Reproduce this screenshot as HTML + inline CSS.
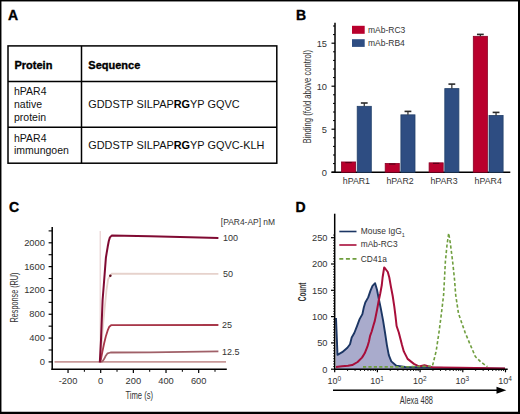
<!DOCTYPE html>
<html><head><meta charset="utf-8"><style>
html,body{margin:0;padding:0;background:#fff;}
body{width:520px;height:414px;overflow:hidden;}
svg{display:block;}
</style></head><body>
<svg width="520" height="414" viewBox="0 0 520 414" font-family='"Liberation Sans", sans-serif'>
<rect x="0" y="0" width="520" height="414" fill="#fff"/>
<text x="8.0" y="20.0" font-size="14" text-anchor="start" font-weight="bold" fill="#000" stroke="#000" stroke-width="0.35">A</text>
<rect x="8" y="45.9" width="268.8" height="117.29999999999998" fill="none" stroke="#000" stroke-width="1.5"/>
<line x1="81.50" y1="45.90" x2="81.50" y2="163.20" stroke="#000" stroke-width="1.5" />
<line x1="8.00" y1="81.50" x2="276.80" y2="81.50" stroke="#000" stroke-width="1.5" />
<line x1="8.00" y1="127.30" x2="276.80" y2="127.30" stroke="#000" stroke-width="1.5" />
<text x="14.5" y="68.5" font-size="11" text-anchor="start" font-weight="bold" fill="#000" stroke="#000" stroke-width="0.35">Protein</text>
<text x="88.3" y="68.5" font-size="11" text-anchor="start" font-weight="bold" fill="#000" stroke="#000" stroke-width="0.35">Sequence</text>
<text x="14" y="95.4" font-size="10.5" text-anchor="start" font-weight="normal" fill="#111" >hPAR4</text>
<text x="14" y="108.3" font-size="10.5" text-anchor="start" font-weight="normal" fill="#111" >native</text>
<text x="14" y="121" font-size="10.5" text-anchor="start" font-weight="normal" fill="#111" >protein</text>
<text x="14" y="141.5" font-size="10.5" text-anchor="start" font-weight="normal" fill="#111" >hPAR4</text>
<text x="14" y="154.3" font-size="10.5" text-anchor="start" font-weight="normal" fill="#111" >immungoen</text>
<text x="88.2" y="107.8" font-size="10.9" text-anchor="start" font-weight="normal" fill="#111" >GDDSTP SILPAP<tspan font-weight="bold" fill="#000">RG</tspan>YP GQVC</text>
<text x="88.2" y="149.3" font-size="10.9" text-anchor="start" font-weight="normal" fill="#111" >GDDSTP SILPAP<tspan font-weight="bold" fill="#000">RG</tspan>YP GQVC-KLH</text>
<text x="295.9" y="20.0" font-size="14" text-anchor="start" font-weight="bold" fill="#000" stroke="#000" stroke-width="0.35">B</text>
<line x1="335.00" y1="22.70" x2="335.00" y2="172.95" stroke="#000" stroke-width="1.5" />
<line x1="331.50" y1="172.20" x2="335.00" y2="172.20" stroke="#000" stroke-width="1.2" />
<text x="327" y="175.5" font-size="9.3" text-anchor="end" font-weight="normal" fill="#333" >0</text>
<line x1="333.00" y1="163.60" x2="335.00" y2="163.60" stroke="#000" stroke-width="1" />
<line x1="333.00" y1="155.00" x2="335.00" y2="155.00" stroke="#000" stroke-width="1" />
<line x1="333.00" y1="146.40" x2="335.00" y2="146.40" stroke="#000" stroke-width="1" />
<line x1="333.00" y1="137.80" x2="335.00" y2="137.80" stroke="#000" stroke-width="1" />
<line x1="331.50" y1="129.20" x2="335.00" y2="129.20" stroke="#000" stroke-width="1.2" />
<text x="327" y="132.5" font-size="9.3" text-anchor="end" font-weight="normal" fill="#333" >5</text>
<line x1="333.00" y1="120.60" x2="335.00" y2="120.60" stroke="#000" stroke-width="1" />
<line x1="333.00" y1="112.00" x2="335.00" y2="112.00" stroke="#000" stroke-width="1" />
<line x1="333.00" y1="103.40" x2="335.00" y2="103.40" stroke="#000" stroke-width="1" />
<line x1="333.00" y1="94.80" x2="335.00" y2="94.80" stroke="#000" stroke-width="1" />
<line x1="331.50" y1="86.20" x2="335.00" y2="86.20" stroke="#000" stroke-width="1.2" />
<text x="327" y="89.49999999999999" font-size="9.3" text-anchor="end" font-weight="normal" fill="#333" >10</text>
<line x1="333.00" y1="77.60" x2="335.00" y2="77.60" stroke="#000" stroke-width="1" />
<line x1="333.00" y1="69.00" x2="335.00" y2="69.00" stroke="#000" stroke-width="1" />
<line x1="333.00" y1="60.40" x2="335.00" y2="60.40" stroke="#000" stroke-width="1" />
<line x1="333.00" y1="51.80" x2="335.00" y2="51.80" stroke="#000" stroke-width="1" />
<line x1="331.50" y1="43.20" x2="335.00" y2="43.20" stroke="#000" stroke-width="1.2" />
<text x="327" y="46.499999999999986" font-size="9.3" text-anchor="end" font-weight="normal" fill="#333" >15</text>
<line x1="333.00" y1="34.60" x2="335.00" y2="34.60" stroke="#000" stroke-width="1" />
<line x1="333.00" y1="26.00" x2="335.00" y2="26.00" stroke="#000" stroke-width="1" />
<line x1="331.50" y1="172.20" x2="510.30" y2="172.20" stroke="#000" stroke-width="1.5" />
<rect x="341.5" y="161.97" width="14.1" height="10.23" fill="#b9002d" stroke="#8a0025" stroke-width="0.8"/>
<line x1="345.35" y1="162.57" x2="351.75" y2="162.57" stroke="#5a0018" stroke-width="1.2" />
<rect x="357.20000000000005" y="106.32" width="14.1" height="65.88" fill="#2e4d82" stroke="#22406a" stroke-width="0.8"/>
<line x1="364.25" y1="103.00" x2="364.25" y2="106.32" stroke="#2a2a2a" stroke-width="1.2" />
<line x1="360.85" y1="103.00" x2="367.65" y2="103.00" stroke="#2a2a2a" stroke-width="1.6" />
<text x="356.40000000000003" y="184" font-size="8.8" text-anchor="middle" font-weight="normal" fill="#333" >hPAR1</text>
<rect x="385.2" y="163.43" width="14.1" height="8.77" fill="#b9002d" stroke="#8a0025" stroke-width="0.8"/>
<line x1="389.05" y1="164.03" x2="395.45" y2="164.03" stroke="#5a0018" stroke-width="1.2" />
<rect x="400.90000000000003" y="114.84" width="14.1" height="57.36" fill="#2e4d82" stroke="#22406a" stroke-width="0.8"/>
<line x1="407.95" y1="111.40" x2="407.95" y2="114.84" stroke="#2a2a2a" stroke-width="1.2" />
<line x1="404.55" y1="111.40" x2="411.35" y2="111.40" stroke="#2a2a2a" stroke-width="1.6" />
<text x="400.1" y="184" font-size="8.8" text-anchor="middle" font-weight="normal" fill="#333" >hPAR2</text>
<rect x="429.1" y="162.83" width="14.1" height="9.37" fill="#b9002d" stroke="#8a0025" stroke-width="0.8"/>
<line x1="432.95" y1="163.43" x2="439.35" y2="163.43" stroke="#5a0018" stroke-width="1.2" />
<rect x="444.80000000000007" y="88.61" width="14.1" height="83.59" fill="#2e4d82" stroke="#22406a" stroke-width="0.8"/>
<line x1="451.85" y1="84.10" x2="451.85" y2="88.61" stroke="#2a2a2a" stroke-width="1.2" />
<line x1="448.45" y1="84.10" x2="455.25" y2="84.10" stroke="#2a2a2a" stroke-width="1.6" />
<text x="444.00000000000006" y="184" font-size="8.8" text-anchor="middle" font-weight="normal" fill="#333" >hPAR3</text>
<rect x="473.3" y="36.32" width="14.1" height="135.88" fill="#b9002d" stroke="#8a0025" stroke-width="0.8"/>
<line x1="480.35" y1="34.40" x2="480.35" y2="36.32" stroke="#2a2a2a" stroke-width="1.2" />
<line x1="476.95" y1="34.40" x2="483.75" y2="34.40" stroke="#2a2a2a" stroke-width="1.6" />
<rect x="489.00000000000006" y="115.44" width="14.1" height="56.76" fill="#2e4d82" stroke="#22406a" stroke-width="0.8"/>
<line x1="496.05" y1="112.40" x2="496.05" y2="115.44" stroke="#2a2a2a" stroke-width="1.2" />
<line x1="492.65" y1="112.40" x2="499.45" y2="112.40" stroke="#2a2a2a" stroke-width="1.6" />
<text x="488.20000000000005" y="184" font-size="8.8" text-anchor="middle" font-weight="normal" fill="#333" >hPAR4</text>
<rect x="352" y="25.8" width="12.7" height="8" fill="#b9002d"/>
<rect x="352" y="39.2" width="12.7" height="7.7" fill="#2e4d82"/>
<text x="368" y="32.8" font-size="8.5" text-anchor="start" font-weight="normal" fill="#333" >mAb-RC3</text>
<text x="368" y="45.8" font-size="8.5" text-anchor="start" font-weight="normal" fill="#333" >mAb-RB4</text>
<text transform="translate(310.8,143.5) rotate(-90)" font-size="10" fill="#333" textLength="93.5" lengthAdjust="spacingAndGlyphs">Binding (fold above control)</text>
<text x="8.9" y="211.6" font-size="14" text-anchor="start" font-weight="bold" fill="#000" stroke="#000" stroke-width="0.35">C</text>
<line x1="52.20" y1="227.00" x2="52.20" y2="370.05" stroke="#000" stroke-width="1.5" />
<line x1="48.60" y1="361.90" x2="52.20" y2="361.90" stroke="#000" stroke-width="1.2" />
<text x="45" y="364.9" font-size="9.4" text-anchor="end" font-weight="normal" fill="#333" >0</text>
<line x1="48.60" y1="349.99" x2="52.20" y2="349.99" stroke="#000" stroke-width="1.1" />
<line x1="48.60" y1="338.08" x2="52.20" y2="338.08" stroke="#000" stroke-width="1.2" />
<text x="45" y="341.08" font-size="9.4" text-anchor="end" font-weight="normal" fill="#333" >400</text>
<line x1="48.60" y1="326.17" x2="52.20" y2="326.17" stroke="#000" stroke-width="1.1" />
<line x1="48.60" y1="314.26" x2="52.20" y2="314.26" stroke="#000" stroke-width="1.2" />
<text x="45" y="317.26" font-size="9.4" text-anchor="end" font-weight="normal" fill="#333" >800</text>
<line x1="48.60" y1="302.35" x2="52.20" y2="302.35" stroke="#000" stroke-width="1.1" />
<line x1="48.60" y1="290.44" x2="52.20" y2="290.44" stroke="#000" stroke-width="1.2" />
<text x="45" y="293.44" font-size="9.4" text-anchor="end" font-weight="normal" fill="#333" >1200</text>
<line x1="48.60" y1="278.53" x2="52.20" y2="278.53" stroke="#000" stroke-width="1.1" />
<line x1="48.60" y1="266.62" x2="52.20" y2="266.62" stroke="#000" stroke-width="1.2" />
<text x="45" y="269.62" font-size="9.4" text-anchor="end" font-weight="normal" fill="#333" >1600</text>
<line x1="48.60" y1="254.71" x2="52.20" y2="254.71" stroke="#000" stroke-width="1.1" />
<line x1="48.60" y1="242.80" x2="52.20" y2="242.80" stroke="#000" stroke-width="1.2" />
<text x="45" y="245.79999999999998" font-size="9.4" text-anchor="end" font-weight="normal" fill="#333" >2000</text>
<line x1="48.60" y1="230.89" x2="52.20" y2="230.89" stroke="#000" stroke-width="1.1" />
<line x1="51.45" y1="369.30" x2="226.80" y2="369.30" stroke="#000" stroke-width="1.5" />
<line x1="68.04" y1="369.30" x2="68.04" y2="373.00" stroke="#000" stroke-width="1.2" />
<text x="68.04" y="384" font-size="9.3" text-anchor="middle" font-weight="normal" fill="#333" >-200</text>
<line x1="84.37" y1="369.30" x2="84.37" y2="371.80" stroke="#000" stroke-width="1" />
<line x1="100.70" y1="369.30" x2="100.70" y2="373.00" stroke="#000" stroke-width="1.2" />
<text x="100.7" y="384" font-size="9.3" text-anchor="middle" font-weight="normal" fill="#333" >0</text>
<line x1="117.03" y1="369.30" x2="117.03" y2="371.80" stroke="#000" stroke-width="1" />
<line x1="133.36" y1="369.30" x2="133.36" y2="373.00" stroke="#000" stroke-width="1.2" />
<text x="133.36" y="384" font-size="9.3" text-anchor="middle" font-weight="normal" fill="#333" >200</text>
<line x1="149.69" y1="369.30" x2="149.69" y2="371.80" stroke="#000" stroke-width="1" />
<line x1="166.02" y1="369.30" x2="166.02" y2="373.00" stroke="#000" stroke-width="1.2" />
<text x="166.01999999999998" y="384" font-size="9.3" text-anchor="middle" font-weight="normal" fill="#333" >400</text>
<line x1="182.35" y1="369.30" x2="182.35" y2="371.80" stroke="#000" stroke-width="1" />
<line x1="198.68" y1="369.30" x2="198.68" y2="373.00" stroke="#000" stroke-width="1.2" />
<text x="198.68" y="384" font-size="9.3" text-anchor="middle" font-weight="normal" fill="#333" >600</text>
<line x1="215.01" y1="369.30" x2="215.01" y2="371.80" stroke="#000" stroke-width="1" />
<text transform="translate(125.4,399.3)" font-size="10.5" fill="#333" textLength="27.7" lengthAdjust="spacingAndGlyphs">Time (s)</text>
<text transform="translate(17.7,322.5) rotate(-90)" font-size="10" fill="#333" textLength="50" lengthAdjust="spacingAndGlyphs">Response (RU)</text>
<line x1="100.20" y1="230.90" x2="100.20" y2="362.00" stroke="#e6cccc" stroke-width="1.1" />
<line x1="54.50" y1="361.90" x2="226.00" y2="361.90" stroke="#c89a9a" stroke-width="1.8" />
<polyline points="100.30,362.00 103.50,320.00 106.50,290.00 108.10,279.40 110.30,275.80 111.80,273.70 218.40,273.90" fill="none" stroke="#e6d2cc" stroke-width="1.8"/>
<polyline points="100.40,362.00 102.40,361.50 104.10,359.10 105.80,355.70 107.60,353.30 110.50,352.50 150.00,352.30 218.40,351.40" fill="none" stroke="#a06068" stroke-width="1.8" stroke-linejoin="round"/>
<polyline points="100.20,362.00 100.90,359.70 102.40,351.60 104.10,343.50 105.80,336.50 107.60,330.70 109.30,326.70 111.10,325.20 218.40,325.00" fill="none" stroke="#a8384a" stroke-width="1.8" stroke-linejoin="round"/>
<polyline points="99.80,362.50 101.00,340.00 102.60,300.00 103.80,285.00 105.90,257.70 106.60,253.40 107.70,246.80 108.80,241.00 109.90,237.40 111.70,235.60 150.00,236.30 190.00,237.30 218.40,237.90" fill="none" stroke="#800a32" stroke-width="2" stroke-linejoin="round"/>
<circle cx="110.3" cy="275.8" r="1.3" fill="#601020"/>
<text x="220.8" y="225" font-size="8.6" text-anchor="start" font-weight="normal" fill="#333" textLength="54.3" lengthAdjust="spacingAndGlyphs">[PAR4-AP] nM</text>
<text x="223" y="241.3" font-size="9" text-anchor="start" font-weight="normal" fill="#333" >100</text>
<text x="223" y="277.4" font-size="9" text-anchor="start" font-weight="normal" fill="#333" >50</text>
<text x="222" y="328.4" font-size="9" text-anchor="start" font-weight="normal" fill="#333" >25</text>
<text x="222" y="355" font-size="9" text-anchor="start" font-weight="normal" fill="#333" >12.5</text>
<text x="295.6" y="211.6" font-size="14" text-anchor="start" font-weight="bold" fill="#000" stroke="#000" stroke-width="0.35">D</text>
<polygon points="336.00,369.20 336.00,318.00 337.50,354.80 342.20,352.20 347.40,347.80 350.00,344.30 351.70,337.40 354.30,333.00 357.00,326.10 359.60,319.10 362.40,314.10 363.80,307.50 365.30,302.50 368.20,297.40 370.40,290.90 372.50,285.80 375.10,283.20 377.00,289.80 378.50,297.50 380.80,308.40 383.10,320.70 385.00,332.50 386.90,345.10 388.80,355.10 391.30,361.40 396.30,365.80 405.10,367.00 417.60,367.30 430.00,367.60 460.00,368.20 505.00,368.60" fill="#a9abcc" stroke="none"/>
<polyline points="336.00,318.00 337.50,354.80 342.20,352.20 347.40,347.80 350.00,344.30 351.70,337.40 354.30,333.00 357.00,326.10 359.60,319.10 362.40,314.10 363.80,307.50 365.30,302.50 368.20,297.40 370.40,290.90 372.50,285.80 375.10,283.20 377.00,289.80 378.50,297.50 380.80,308.40 383.10,320.70 385.00,332.50 386.90,345.10 388.80,355.10 391.30,361.40 396.30,365.80 405.10,367.00 417.60,367.30 430.00,367.60 460.00,368.20 505.00,368.60" fill="none" stroke="#1c3664" stroke-width="1.9" stroke-linejoin="round"/>
<polyline points="336.00,366.90 342.00,366.30 348.00,365.80 352.20,365.10 357.60,362.00 362.00,357.60 364.70,353.30 367.40,346.70 369.00,341.30 370.10,335.90 371.70,331.50 373.40,325.50 374.80,320.90 377.00,310.00 378.60,301.30 380.20,293.70 381.80,285.00 382.60,277.50 384.20,267.40 385.50,269.00 387.80,272.00 389.30,277.50 390.90,286.70 392.70,296.00 394.30,306.70 395.50,316.10 396.60,326.00 398.80,332.50 402.00,345.10 403.80,351.40 407.60,358.90 413.90,363.90 418.90,366.40 424.50,365.20 428.90,366.40 432.70,367.40 440.00,367.40 460.00,367.80 505.00,368.50" fill="none" stroke="#a80e3a" stroke-width="2" stroke-linejoin="round"/>
<polyline points="363.00,366.90 400.00,366.90 432.40,366.20 436.20,350.90 439.00,332.20 441.40,313.60 443.60,295.00 445.40,261.20 447.00,245.00 448.70,233.20 450.30,243.10 452.60,261.20 454.50,279.30 455.70,295.00 458.50,313.60 465.00,332.20 469.70,343.40 475.30,356.50 480.90,362.00 487.40,366.70" fill="none" stroke="#6f9e3e" stroke-width="1.6" stroke-dasharray="3.2 2.2" stroke-linejoin="round"/>
<line x1="334.70" y1="213.70" x2="334.70" y2="369.95" stroke="#000" stroke-width="1.5" />
<line x1="331.00" y1="369.20" x2="334.70" y2="369.20" stroke="#000" stroke-width="1.2" />
<text x="327.5" y="372.5" font-size="9.3" text-anchor="end" font-weight="normal" fill="#333" >0</text>
<line x1="333.20" y1="366.57" x2="334.70" y2="366.57" stroke="#000" stroke-width="0.9" />
<line x1="333.20" y1="363.94" x2="334.70" y2="363.94" stroke="#000" stroke-width="0.9" />
<line x1="333.20" y1="361.31" x2="334.70" y2="361.31" stroke="#000" stroke-width="0.9" />
<line x1="333.20" y1="358.68" x2="334.70" y2="358.68" stroke="#000" stroke-width="0.9" />
<line x1="333.20" y1="356.05" x2="334.70" y2="356.05" stroke="#000" stroke-width="0.9" />
<line x1="333.20" y1="353.42" x2="334.70" y2="353.42" stroke="#000" stroke-width="0.9" />
<line x1="333.20" y1="350.79" x2="334.70" y2="350.79" stroke="#000" stroke-width="0.9" />
<line x1="333.20" y1="348.16" x2="334.70" y2="348.16" stroke="#000" stroke-width="0.9" />
<line x1="333.20" y1="345.53" x2="334.70" y2="345.53" stroke="#000" stroke-width="0.9" />
<line x1="331.00" y1="342.90" x2="334.70" y2="342.90" stroke="#000" stroke-width="1.2" />
<text x="327.5" y="346.2" font-size="9.3" text-anchor="end" font-weight="normal" fill="#333" >50</text>
<line x1="333.20" y1="340.27" x2="334.70" y2="340.27" stroke="#000" stroke-width="0.9" />
<line x1="333.20" y1="337.64" x2="334.70" y2="337.64" stroke="#000" stroke-width="0.9" />
<line x1="333.20" y1="335.01" x2="334.70" y2="335.01" stroke="#000" stroke-width="0.9" />
<line x1="333.20" y1="332.38" x2="334.70" y2="332.38" stroke="#000" stroke-width="0.9" />
<line x1="333.20" y1="329.75" x2="334.70" y2="329.75" stroke="#000" stroke-width="0.9" />
<line x1="333.20" y1="327.12" x2="334.70" y2="327.12" stroke="#000" stroke-width="0.9" />
<line x1="333.20" y1="324.49" x2="334.70" y2="324.49" stroke="#000" stroke-width="0.9" />
<line x1="333.20" y1="321.86" x2="334.70" y2="321.86" stroke="#000" stroke-width="0.9" />
<line x1="333.20" y1="319.23" x2="334.70" y2="319.23" stroke="#000" stroke-width="0.9" />
<line x1="331.00" y1="316.60" x2="334.70" y2="316.60" stroke="#000" stroke-width="1.2" />
<text x="327.5" y="319.9" font-size="9.3" text-anchor="end" font-weight="normal" fill="#333" >100</text>
<line x1="333.20" y1="313.97" x2="334.70" y2="313.97" stroke="#000" stroke-width="0.9" />
<line x1="333.20" y1="311.34" x2="334.70" y2="311.34" stroke="#000" stroke-width="0.9" />
<line x1="333.20" y1="308.71" x2="334.70" y2="308.71" stroke="#000" stroke-width="0.9" />
<line x1="333.20" y1="306.08" x2="334.70" y2="306.08" stroke="#000" stroke-width="0.9" />
<line x1="333.20" y1="303.45" x2="334.70" y2="303.45" stroke="#000" stroke-width="0.9" />
<line x1="333.20" y1="300.82" x2="334.70" y2="300.82" stroke="#000" stroke-width="0.9" />
<line x1="333.20" y1="298.19" x2="334.70" y2="298.19" stroke="#000" stroke-width="0.9" />
<line x1="333.20" y1="295.56" x2="334.70" y2="295.56" stroke="#000" stroke-width="0.9" />
<line x1="333.20" y1="292.93" x2="334.70" y2="292.93" stroke="#000" stroke-width="0.9" />
<line x1="331.00" y1="290.30" x2="334.70" y2="290.30" stroke="#000" stroke-width="1.2" />
<text x="327.5" y="293.59999999999997" font-size="9.3" text-anchor="end" font-weight="normal" fill="#333" >150</text>
<line x1="333.20" y1="287.67" x2="334.70" y2="287.67" stroke="#000" stroke-width="0.9" />
<line x1="333.20" y1="285.04" x2="334.70" y2="285.04" stroke="#000" stroke-width="0.9" />
<line x1="333.20" y1="282.41" x2="334.70" y2="282.41" stroke="#000" stroke-width="0.9" />
<line x1="333.20" y1="279.78" x2="334.70" y2="279.78" stroke="#000" stroke-width="0.9" />
<line x1="333.20" y1="277.15" x2="334.70" y2="277.15" stroke="#000" stroke-width="0.9" />
<line x1="333.20" y1="274.52" x2="334.70" y2="274.52" stroke="#000" stroke-width="0.9" />
<line x1="333.20" y1="271.89" x2="334.70" y2="271.89" stroke="#000" stroke-width="0.9" />
<line x1="333.20" y1="269.26" x2="334.70" y2="269.26" stroke="#000" stroke-width="0.9" />
<line x1="333.20" y1="266.63" x2="334.70" y2="266.63" stroke="#000" stroke-width="0.9" />
<line x1="331.00" y1="264.00" x2="334.70" y2="264.00" stroke="#000" stroke-width="1.2" />
<text x="327.5" y="267.3" font-size="9.3" text-anchor="end" font-weight="normal" fill="#333" >200</text>
<line x1="333.20" y1="261.37" x2="334.70" y2="261.37" stroke="#000" stroke-width="0.9" />
<line x1="333.20" y1="258.74" x2="334.70" y2="258.74" stroke="#000" stroke-width="0.9" />
<line x1="333.20" y1="256.11" x2="334.70" y2="256.11" stroke="#000" stroke-width="0.9" />
<line x1="333.20" y1="253.48" x2="334.70" y2="253.48" stroke="#000" stroke-width="0.9" />
<line x1="333.20" y1="250.85" x2="334.70" y2="250.85" stroke="#000" stroke-width="0.9" />
<line x1="333.20" y1="248.22" x2="334.70" y2="248.22" stroke="#000" stroke-width="0.9" />
<line x1="333.20" y1="245.59" x2="334.70" y2="245.59" stroke="#000" stroke-width="0.9" />
<line x1="333.20" y1="242.96" x2="334.70" y2="242.96" stroke="#000" stroke-width="0.9" />
<line x1="333.20" y1="240.33" x2="334.70" y2="240.33" stroke="#000" stroke-width="0.9" />
<line x1="331.00" y1="237.70" x2="334.70" y2="237.70" stroke="#000" stroke-width="1.2" />
<text x="327.5" y="241.0" font-size="9.3" text-anchor="end" font-weight="normal" fill="#333" >250</text>
<line x1="333.20" y1="235.07" x2="334.70" y2="235.07" stroke="#000" stroke-width="0.9" />
<line x1="333.95" y1="369.20" x2="507.70" y2="369.20" stroke="#000" stroke-width="1.5" />
<line x1="334.70" y1="369.20" x2="334.70" y2="372.30" stroke="#000" stroke-width="1.2" />
<line x1="347.55" y1="369.20" x2="347.55" y2="371.00" stroke="#000" stroke-width="0.9" />
<line x1="355.07" y1="369.20" x2="355.07" y2="371.00" stroke="#000" stroke-width="0.9" />
<line x1="360.41" y1="369.20" x2="360.41" y2="371.00" stroke="#000" stroke-width="0.9" />
<line x1="364.55" y1="369.20" x2="364.55" y2="371.00" stroke="#000" stroke-width="0.9" />
<line x1="367.93" y1="369.20" x2="367.93" y2="371.00" stroke="#000" stroke-width="0.9" />
<line x1="370.79" y1="369.20" x2="370.79" y2="371.00" stroke="#000" stroke-width="0.9" />
<line x1="373.26" y1="369.20" x2="373.26" y2="371.00" stroke="#000" stroke-width="0.9" />
<line x1="375.45" y1="369.20" x2="375.45" y2="371.00" stroke="#000" stroke-width="0.9" />
<line x1="377.40" y1="369.20" x2="377.40" y2="372.30" stroke="#000" stroke-width="1.2" />
<line x1="390.25" y1="369.20" x2="390.25" y2="371.00" stroke="#000" stroke-width="0.9" />
<line x1="397.77" y1="369.20" x2="397.77" y2="371.00" stroke="#000" stroke-width="0.9" />
<line x1="403.11" y1="369.20" x2="403.11" y2="371.00" stroke="#000" stroke-width="0.9" />
<line x1="407.25" y1="369.20" x2="407.25" y2="371.00" stroke="#000" stroke-width="0.9" />
<line x1="410.63" y1="369.20" x2="410.63" y2="371.00" stroke="#000" stroke-width="0.9" />
<line x1="413.49" y1="369.20" x2="413.49" y2="371.00" stroke="#000" stroke-width="0.9" />
<line x1="415.96" y1="369.20" x2="415.96" y2="371.00" stroke="#000" stroke-width="0.9" />
<line x1="418.15" y1="369.20" x2="418.15" y2="371.00" stroke="#000" stroke-width="0.9" />
<line x1="420.10" y1="369.20" x2="420.10" y2="372.30" stroke="#000" stroke-width="1.2" />
<line x1="432.95" y1="369.20" x2="432.95" y2="371.00" stroke="#000" stroke-width="0.9" />
<line x1="440.47" y1="369.20" x2="440.47" y2="371.00" stroke="#000" stroke-width="0.9" />
<line x1="445.81" y1="369.20" x2="445.81" y2="371.00" stroke="#000" stroke-width="0.9" />
<line x1="449.95" y1="369.20" x2="449.95" y2="371.00" stroke="#000" stroke-width="0.9" />
<line x1="453.33" y1="369.20" x2="453.33" y2="371.00" stroke="#000" stroke-width="0.9" />
<line x1="456.19" y1="369.20" x2="456.19" y2="371.00" stroke="#000" stroke-width="0.9" />
<line x1="458.66" y1="369.20" x2="458.66" y2="371.00" stroke="#000" stroke-width="0.9" />
<line x1="460.85" y1="369.20" x2="460.85" y2="371.00" stroke="#000" stroke-width="0.9" />
<line x1="462.80" y1="369.20" x2="462.80" y2="372.30" stroke="#000" stroke-width="1.2" />
<line x1="475.65" y1="369.20" x2="475.65" y2="371.00" stroke="#000" stroke-width="0.9" />
<line x1="483.17" y1="369.20" x2="483.17" y2="371.00" stroke="#000" stroke-width="0.9" />
<line x1="488.51" y1="369.20" x2="488.51" y2="371.00" stroke="#000" stroke-width="0.9" />
<line x1="492.65" y1="369.20" x2="492.65" y2="371.00" stroke="#000" stroke-width="0.9" />
<line x1="496.03" y1="369.20" x2="496.03" y2="371.00" stroke="#000" stroke-width="0.9" />
<line x1="498.89" y1="369.20" x2="498.89" y2="371.00" stroke="#000" stroke-width="0.9" />
<line x1="501.36" y1="369.20" x2="501.36" y2="371.00" stroke="#000" stroke-width="0.9" />
<line x1="503.55" y1="369.20" x2="503.55" y2="371.00" stroke="#000" stroke-width="0.9" />
<line x1="505.50" y1="369.20" x2="505.50" y2="372.30" stroke="#000" stroke-width="1.2" />
<text x="327.50" y="384.1" font-size="9" fill="#333">10<tspan font-size="6.5" dy="-3.4">0</tspan></text>
<text x="370.20" y="384.1" font-size="9" fill="#333">10<tspan font-size="6.5" dy="-3.4">1</tspan></text>
<text x="412.90" y="384.1" font-size="9" fill="#333">10<tspan font-size="6.5" dy="-3.4">2</tspan></text>
<text x="455.60" y="384.1" font-size="9" fill="#333">10<tspan font-size="6.5" dy="-3.4">3</tspan></text>
<text x="498.30" y="384.1" font-size="9" fill="#333">10<tspan font-size="6.5" dy="-3.4">4</tspan></text>
<line x1="333.00" y1="390.30" x2="498.00" y2="390.30" stroke="#000" stroke-width="1.5" />
<polygon points="496.5,386.8 506.3,390.3 496.5,393.8" fill="#000"/>
<text transform="translate(399.8,403.6)" font-size="11.3" fill="#333" textLength="33.2" lengthAdjust="spacingAndGlyphs">Alexa 488</text>
<text transform="translate(305.6,301.2) rotate(-90)" font-size="10" font-weight="bold" fill="#333" textLength="18.5" lengthAdjust="spacingAndGlyphs">Count</text>
<line x1="339.30" y1="231.50" x2="356.50" y2="231.50" stroke="#1c3664" stroke-width="1.6" />
<line x1="339.30" y1="245.00" x2="356.50" y2="245.00" stroke="#a80e3a" stroke-width="1.6" />
<line x1="339.30" y1="258.90" x2="356.50" y2="258.90" stroke="#6f9e3e" stroke-width="1.6" stroke-dasharray="4 2.6"/>
<text x="360.8" y="234" font-size="8.4" text-anchor="start" font-weight="normal" fill="#333" >Mouse IgG<tspan font-size="5.5" dy="2.5">1</tspan></text>
<text x="360.8" y="247.4" font-size="8.4" text-anchor="start" font-weight="normal" fill="#333" >mAb-RC3</text>
<text x="360.8" y="261.7" font-size="8.4" text-anchor="start" font-weight="normal" fill="#333" >CD41a</text>
<rect x="0.7" y="0.7" width="518.3" height="411.8" fill="none" stroke="#000" stroke-width="1.5"/>
<line x1="519" y1="0" x2="519" y2="414" stroke="#000" stroke-width="2"/>
<line x1="0" y1="413" x2="520" y2="413" stroke="#000" stroke-width="2"/>
</svg>
</body></html>
